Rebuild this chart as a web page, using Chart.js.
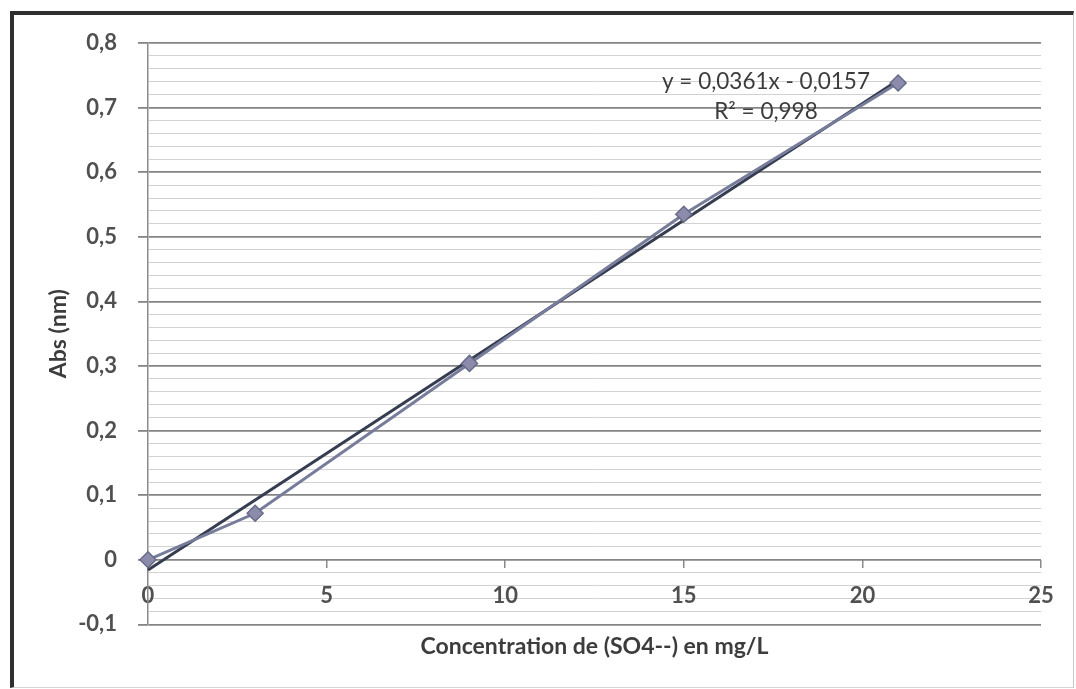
<!DOCTYPE html>
<html>
<head>
<meta charset="utf-8">
<script src="https://cdn.jsdelivr.net/npm/chart.js@4.4.1/dist/chart.umd.min.js"></script>
<style>
  html, body { margin: 0; padding: 0; background: #fff; }
  #frame {
    position: absolute; left: 10px; top: 11px; width: 1064px; height: 677px;
    border-top: 4px solid #2f2f2f; border-left: 4px solid #2f2f2f;
    border-right: 1px solid #c8c8c8; border-bottom: 1px solid #d4d4d4;
    box-sizing: border-box;
  }
  #wrap { position: absolute; left: 0; top: 0; width: 1076px; height: 689px; }
</style>
</head>
<body>
<div id="frame"></div>
<div id="wrap"><canvas id="myChart"></canvas></div>
<script>
// values
const concX = [0, 3, 9, 15, 21];
const absY = [0, 0.072, 0.304, 0.535, 0.738];
// linear trendline, end points from y = 0,0361x - 0,0157
const trendX = [0, 21];
const trendY = [-0.0157, 0.7424];
const yMajorTicks = [-0.1, 0, 0.1, 0.2, 0.3, 0.4, 0.5, 0.6, 0.7, 0.8];
const equationLines = ['y = 0,0361x - 0,0157', 'R² = 0,998'];

const isMajor = v => yMajorTicks.some(t => Math.abs(t - v) < 1e-6);

Chart.defaults.font.family = 'Lato';
Chart.defaults.font.size = 22;
Chart.defaults.color = '#505050';

// trendline equation, drawn like Excel's label
const equationLabel = {
  id: 'equationLabel',
  afterDatasetsDraw(chart) {
    const {ctx, scales: {x, y}} = chart;
    const cx = x.getPixelForValue(17.3);
    const cy = y.getPixelForValue(0.7395);
    ctx.save();
    ctx.font = '22.5px Lato';
    ctx.fillStyle = '#3c3c3c';
    ctx.textAlign = 'center';
    ctx.textBaseline = 'middle';
    ctx.fillText(equationLines[0], cx, cy);
    ctx.fillText(equationLines[1], cx, cy + 30);
    ctx.restore();
  }
};

const ctx = document.getElementById('myChart').getContext('2d');
const myChart = new Chart(ctx, {
  type: 'scatter',
  data: {
    datasets: [{
      label: 'Abs',
      data: concX.map((x, i) => ({x: x, y: absY[i]})),
      showLine: true,
      borderColor: '#767c9a',
      borderWidth: 3,
      pointStyle: 'rectRot',
      pointRadius: 8,
      pointBackgroundColor: '#8d8bab',
      pointBorderColor: '#666b88',
      pointBorderWidth: 1.5,
      clip: false
    }, {
      label: 'Linéaire',
      data: trendX.map((x, i) => ({x: x, y: trendY[i]})),
      showLine: true,
      borderColor: '#363d50',
      borderWidth: 3,
      pointRadius: 0,
      clip: false
    }]
  },
  options: {
    responsive: true,
    maintainAspectRatio: false,
    animation: false,
    layout: { padding: { left: 20, top: 43, right: 35, bottom: 29 } },
    plugins: {
      legend: { display: false },
      tooltip: { enabled: false },
      title: {
        display: true,
        position: 'bottom',
        fullSize: false,
        text: 'Concentration de (SO4--) en mg/L',
        color: '#3c3c3c',
        font: { size: 23, weight: 'bold' },
        padding: { top: 8, bottom: 0 }
      }
    },
    scales: {
      x: {
        type: 'linear',
        position: { y: 0 },
        min: 0,
        max: 25,
        afterFit: scale => { scale.height = 0; },
        border: { display: false },
        grid: {
          drawOnChartArea: false,
          drawTicks: true,
          tickLength: 8,
          color: '#8a8a8a',
          lineWidth: 1.5
        },
        ticks: {
          stepSize: 5,
          padding: 15,
          font: { weight: 'bold' },
          callback: v => String(v)
        }
      },
      y: {
        min: -0.1,
        max: 0.8,
        afterFit: scale => { scale.width = 128; },
        border: { display: true, color: '#8a8a8a', width: 1.5 },
        grid: {
          color: c => isMajor(c.tick.value) ? '#858585' : '#d2d2d2',
          lineWidth: c => isMajor(c.tick.value) ? 1.8 : 1,
          tickColor: c => isMajor(c.tick.value) ? '#858585' : 'rgba(0,0,0,0)',
          tickLength: 10
        },
        ticks: {
          stepSize: 0.02,
          autoSkip: false,
          padding: 21,
          font: { weight: 'bold' },
          callback: v => isMajor(v) ? String(yMajorTicks.find(t => Math.abs(t - v) < 1e-6)).replace('.', ',') : ''
        },
        title: {
          display: true,
          text: 'Abs (nm)',
          color: '#3c3c3c',
          font: { size: 23, weight: 'bold' },
          padding: { top: 25, bottom: 0 }
        }
      }
    }
  },
  plugins: [equationLabel]
});
</script>
</body>
</html>
